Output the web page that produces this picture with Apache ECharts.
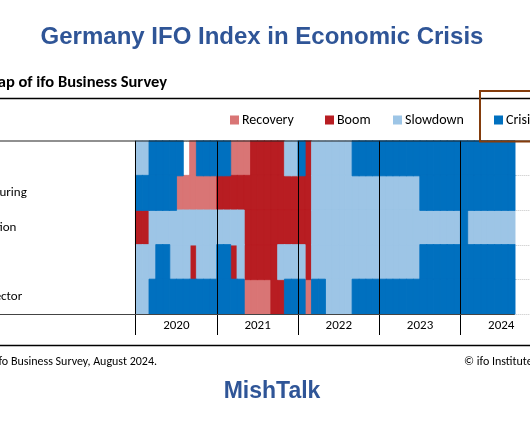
<!DOCTYPE html>
<html><head><meta charset="utf-8">
<script src="https://cdn.jsdelivr.net/npm/echarts@6/dist/echarts.min.js"></script>
<style>html,body{margin:0;padding:0;background:#fff}#c{width:530px;height:443px}</style>
</head><body><div id="c"></div>
<script>
// ---- texts ----
const titleText = 'Germany IFO Index in Economic Crisis';
const subtitleText = 'Heatmap of ifo Business Survey';
const sourceText = 'Source: ifo Business Survey, August 2024.';
const copyrightText = '\u00a9 ifo Institute';
const brandText = 'MishTalk';

// ---- categories ----
const years = ['2020', '2021', '2022', '2023', '2024'];
const monthNames = ['01','02','03','04','05','06','07','08','09','10','11','12'];
const sectors = ['Germany', 'Manufacturing', 'Construction', 'Trade', 'Service sector'];
const phases = ['Recovery', 'Boom', 'Slowdown', 'Crisis'];
const phaseCodes = ['R', 'B', 'S', 'C'];
const phaseColors = ['#d97575', '#b81d22', '#9dc5e6', '#0070bf'];

// ---- phase per month (one string per year, Jan..Dec; 2024 through August; '-' = no value) ----
const germany       = ['SSCCCCC-RCCC', 'CCRRRBBBBBSS', 'CBSSSSSSCCCC', 'CCCCCCCCCCCC', 'CCCCCCCC'];
const manufacturing = ['CCCCCCRRRRRR', 'BBBBBBBBBBBB', 'BBSSSSSSSSSS', 'SSSSSSCCCCCC', 'CCCCCCCC'];
const construction  = ['BBSSSSSSSSSS', 'SSSSBBBBBBBB', 'BBSSSSSSSSSS', 'SSSSSSSSSSSS', 'CSSSSSSS'];
const trade         = ['SSSCCSSSBSSS', 'CCBSBBBBBSSS', 'SBSSSSSSSSSS', 'SSSSSSCCCCCC', 'CCCCCCCC'];
const services      = ['SSCCCCCCCCCC', 'CCCCRRRRBBCC', 'CRCCSSSSCCCC', 'CCCCCCCCCCCC', 'CCCCCCCC'];
const sectorPhases = [germany, manufacturing, construction, trade, services];

// ---- build ----
const months = years.flatMap(y => monthNames.map(m => y + '-' + m));
const seriesData = phases.map(() => []);
sectorPhases.forEach((row, r) => {
  row.forEach((yearStr, yi) => {
    yearStr.split('').forEach((code, mi) => {
      const p = phaseCodes.indexOf(code);
      if (p >= 0) seriesData[p].push([yi * 12 + mi, r, 1]);
    });
  });
});

const F = 'Carlito, Lato, sans-serif';
const chart = echarts.init(document.getElementById('c'), null, {renderer: 'canvas'});
const legendLeft = [230, 325, 393, 494];

const option = {
  animation: false,
  backgroundColor: '#fff',
  grid: {left: 135.7, top: 141, width: 406.2, height: 173, containLabel: false, outerBoundsMode: 'none'},
  xAxis: [
    {type: 'category', data: months, gridIndex: 0, show: false},
    {type: 'category', data: years, gridIndex: 0, position: 'bottom', z: 10,
     axisLine: {show: false},
     axisTick: {show: true, length: 21, lineStyle: {color: '#000', width: 1}},
     axisLabel: {color: '#000', fontSize: 13, fontFamily: F, margin: 5},
     splitLine: {show: true, lineStyle: {color: '#000', width: 1}}}
  ],
  yAxis: {
    type: 'category', data: sectors, inverse: true,
    axisLine: {show: true, lineStyle: {color: '#000', width: 1}},
    axisTick: {show: false},
    axisLabel: {align: 'left', margin: 187, fontSize: 13, fontFamily: F, color: '#000'},
    splitLine: {show: true, lineStyle: {color: '#c4c4c4', type: 'dotted', width: 1}}
  },
  legend: phases.map((p, i) => ({
    data: [p], left: legendLeft[i], top: 113, padding: 0, itemGap: 0,
    itemWidth: 7, itemHeight: 7, icon: 'rect', selectedMode: false,
    textStyle: {fontSize: 14, fontFamily: F, color: '#000', padding: [0, 0, 0, -1]}
  })),
  series: phases.map((p, i) => ({
    type: 'heatmap', name: p, xAxisIndex: 0, yAxisIndex: 0,
    data: seriesData[i],
    itemStyle: {color: phaseColors[i], borderColor: phaseColors[i], borderWidth: 0.8},
    emphasis: {disabled: true}
  })),
  graphic: {elements: [
    {type: 'text', x: 262, y: 37, z: 100,
     style: {text: titleText, font: 'bold 24px "Liberation Sans", Arial, sans-serif', fill: '#2f5597',
             textAlign: 'center', align: 'center', textVerticalAlign: 'middle', verticalAlign: 'middle'}},
    {type: 'text', x: 167, y: 83, z: 100,
     style: {text: subtitleText, font: 'bold 16.5px ' + F, fill: '#000',
             textAlign: 'right', align: 'right', textVerticalAlign: 'middle', verticalAlign: 'middle'}},
    {type: 'line', z: 100, shape: {x1: 0, y1: 98.5, x2: 530, y2: 98.5}, style: {stroke: '#000', lineWidth: 1.3}},
    {type: 'line', z: 100, shape: {x1: 0, y1: 141, x2: 530, y2: 141}, style: {stroke: '#222', lineWidth: 1.2}},
    {type: 'line', z: 100, shape: {x1: 0, y1: 314.5, x2: 514.5, y2: 314.5}, style: {stroke: '#444', lineWidth: 1.2}},
    {type: 'line', z: 100, shape: {x1: 0, y1: 345.5, x2: 530, y2: 345.5}, style: {stroke: '#000', lineWidth: 1.3}},
    {type: 'rect', z: 100, shape: {x: 480, y: 91, width: 70, height: 50.5},
     style: {fill: 'none', stroke: '#843c0c', lineWidth: 2}},
    {type: 'text', x: 157, y: 362, z: 100,
     style: {text: sourceText, font: '12px ' + F, fill: '#000',
             textAlign: 'right', align: 'right', textVerticalAlign: 'middle', verticalAlign: 'middle'}},
    {type: 'text', x: 464, y: 362, z: 100,
     style: {text: copyrightText, font: '12px ' + F, fill: '#000',
             textAlign: 'left', align: 'left', textVerticalAlign: 'middle', verticalAlign: 'middle'}},
    {type: 'text', x: 272, y: 392, z: 100,
     style: {text: brandText, font: 'bold 23px "Liberation Sans", Arial, sans-serif', fill: '#2f5597',
             textAlign: 'center', align: 'center', textVerticalAlign: 'middle', verticalAlign: 'middle'}}
  ]}
};
chart.setOption(option);
</script>
</body></html>
